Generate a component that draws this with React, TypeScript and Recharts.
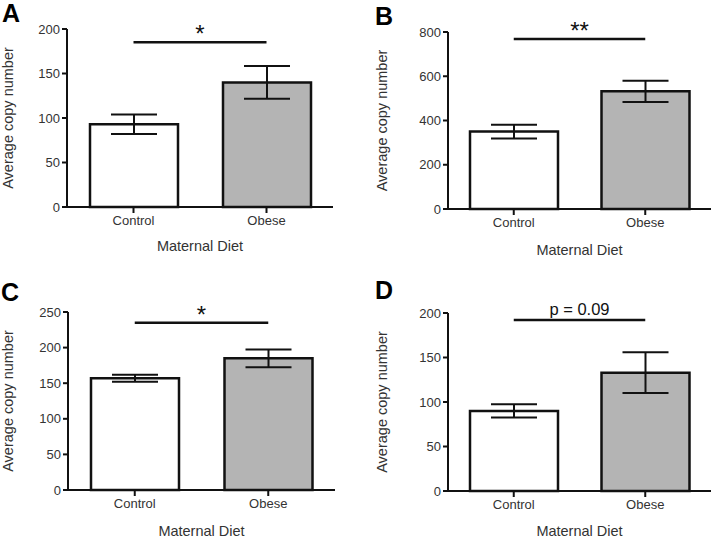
import React from "react";
import { BarChart, Bar, XAxis, YAxis, ErrorBar, Cell, ReferenceLine } from "recharts";

const categories = ["Control", "Obese"];
const barFills = ["#ffffff", "#b4b4b4"];

const meansA = [93, 140];
const errA = [11, 18.5];
const meansB = [350, 532];
const errB = [31, 48];
const meansC = [157, 185];
const errC = [5, 12.5];
const meansD = [90, 133];
const errD = [7.5, 23];

const ticksA = [0, 50, 100, 150, 200];
const ticksB = [0, 200, 400, 600, 800];
const ticksC = [0, 50, 100, 150, 200, 250];
const ticksD = [0, 50, 100, 150, 200];

const sigLevels = [185, 768, 235, 192];
const sigLabels = ["*", "**", "*", "p = 0.09"];
const panelLetters = ["A", "B", "C", "D"];

const yTitle = "Average copy number";
const xTitle = "Maternal Diet";

const FONT = "'Liberation Sans', Arial, sans-serif";
const INK = "#111";
const TEXT = "#333";

function build(means: number[], errs: number[]) {
  return categories.map((name, i) => ({ name, value: means[i], err: errs[i] }));
}

type PanelProps = {
  left: number;
  top: number;
  width: number;
  height: number;
  data: { name: string; value: number; err: number }[];
  ticks: number[];
  yw: number;
  xh: number;
  mTop: number;
  mRight: number;
  yTitleOffset: number;
  xTitleOffset: number;
  sig: number;
  sigLabel: string;
  sigFont: number;
  sigOffset: number;
};

function Panel(p: PanelProps) {
  const max = p.ticks[p.ticks.length - 1];
  return (
    <div style={{ position: "absolute", left: p.left, top: p.top }}>
      <BarChart
        width={p.width}
        height={p.height}
        data={p.data}
        margin={{ top: p.mTop, right: p.mRight, left: 0, bottom: 0 }}
        barSize={88}
      >
        <XAxis
          dataKey="name"
          type="category"
          height={p.xh}
          tickSize={6}
          tickMargin={3}
          axisLine={{ stroke: INK, strokeWidth: 2 }}
          tickLine={{ stroke: INK, strokeWidth: 2 }}
          tick={{ fill: TEXT, fontSize: 13 }}
          label={{ value: xTitle, position: "insideBottom", offset: p.xTitleOffset, fontSize: 14.5, fill: TEXT }}
        />
        <YAxis
          type="number"
          domain={[0, max]}
          ticks={p.ticks}
          width={p.yw}
          tickSize={5}
          tickMargin={2}
          axisLine={{ stroke: INK, strokeWidth: 2 }}
          tickLine={{ stroke: INK, strokeWidth: 2 }}
          tick={{ fill: TEXT, fontSize: 13 }}
          label={{
            value: yTitle,
            angle: -90,
            position: "insideLeft",
            offset: p.yTitleOffset,
            fontSize: 14.5,
            fill: TEXT,
            style: { textAnchor: "middle" },
          }}
        />
        <Bar dataKey="value" stroke={INK} strokeWidth={2.5} isAnimationActive={false}>
          {p.data.map((d, i) => (
            <Cell key={d.name} fill={barFills[i]} />
          ))}
          <ErrorBar dataKey="err" width={23} strokeWidth={2} stroke={INK} direction="y" />
        </Bar>
        <ReferenceLine
          segment={[
            { x: categories[0], y: p.sig },
            { x: categories[1], y: p.sig },
          ]}
          stroke={INK}
          strokeWidth={2.5}
          label={{ value: p.sigLabel, position: "top", offset: p.sigOffset, fontSize: p.sigFont, fill: INK }}
        />
      </BarChart>
    </div>
  );
}

const letterStyle = (left: number, top: number): React.CSSProperties => ({
  position: "absolute",
  left,
  top,
  fontSize: 25,
  lineHeight: "25px",
  fontWeight: "bold",
  color: "#000",
  fontFamily: FONT,
});

export default function App() {
  return (
    <div
      style={{
        position: "absolute",
        left: 0,
        top: 0,
        width: 717,
        height: 538,
        background: "#fff",
        fontFamily: FONT,
      }}
    >
      <Panel
        left={0}
        top={0}
        width={358}
        height={269}
        data={build(meansA, errA)}
        ticks={ticksA}
        yw={67}
        xh={62}
        mTop={29}
        mRight={25}
        yTitleOffset={8}
        xTitleOffset={18}
        sig={sigLevels[0]}
        sigLabel={sigLabels[0]}
        sigFont={24}
        sigOffset={0}
      />
      <Panel
        left={358}
        top={0}
        width={359}
        height={269}
        data={build(meansB, errB)}
        ticks={ticksB}
        yw={90}
        xh={60}
        mTop={32}
        mRight={6}
        yTitleOffset={24}
        xTitleOffset={14}
        sig={sigLevels[1]}
        sigLabel={sigLabels[1]}
        sigFont={24}
        sigOffset={0}
      />
      <Panel
        left={0}
        top={269}
        width={358}
        height={269}
        data={build(meansC, errC)}
        ticks={ticksC}
        yw={68}
        xh={48}
        mTop={43}
        mRight={23}
        yTitleOffset={8}
        xTitleOffset={2}
        sig={sigLevels[2]}
        sigLabel={sigLabels[2]}
        sigFont={24}
        sigOffset={0}
      />
      <Panel
        left={358}
        top={269}
        width={359}
        height={269}
        data={build(meansD, errD)}
        ticks={ticksD}
        yw={90}
        xh={47}
        mTop={44}
        mRight={6}
        yTitleOffset={24}
        xTitleOffset={2}
        sig={sigLevels[3]}
        sigLabel={sigLabels[3]}
        sigFont={16.5}
        sigOffset={5}
      />
      <div style={letterStyle(2, 1)}>{panelLetters[0]}</div>
      <div style={letterStyle(375, 4)}>{panelLetters[1]}</div>
      <div style={letterStyle(1, 280)}>{panelLetters[2]}</div>
      <div style={letterStyle(375, 278)}>{panelLetters[3]}</div>
    </div>
  );
}
